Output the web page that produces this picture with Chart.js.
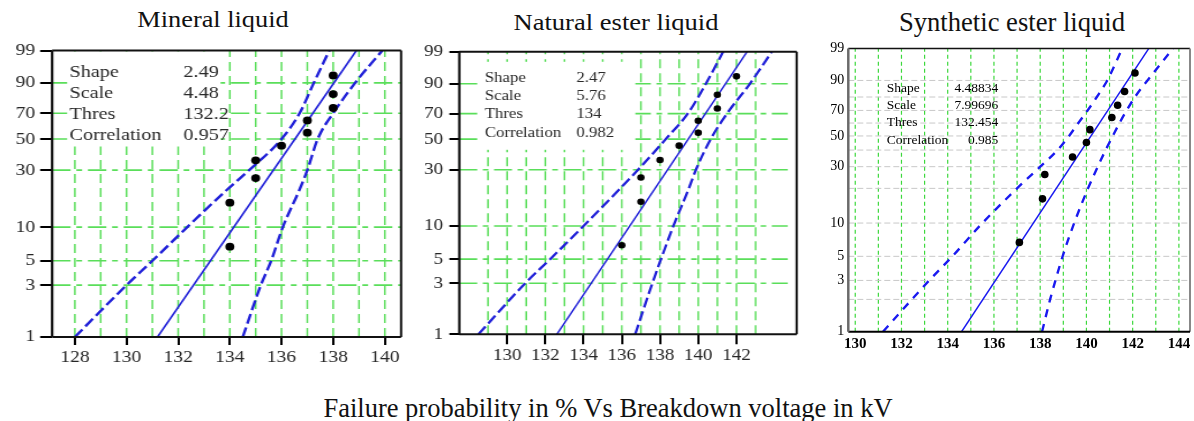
<!DOCTYPE html>
<html>
<head>
<meta charset="utf-8">
<script src="https://cdn.jsdelivr.net/npm/chart.js@4.4.1/dist/chart.umd.min.js"></script>
<style>
  body { margin: 0; background: #fff; width: 1194px; height: 421px; overflow: hidden; position: relative;
         font-family: "Liberation Serif", "Times New Roman", serif; color: #111; }
  .title { position: absolute; white-space: nowrap; line-height: 1; transform-origin: 50% 0; }
  .panel { position: absolute; top: 36px; height: 344px; transform-origin: 0 0; }
  #caption { position: absolute; left: 608px; top: 394.8px; font-size: 26.5px; line-height: 1; white-space: nowrap;
             transform: translateX(-50%); }
</style>
</head>
<body>
<div class="title" style="left:213px; top:9.2px; font-size:22.5px; transform:translateX(-50%) scaleX(1.17);">Mineral liquid</div>
<div class="title" style="left:616px; top:10.8px; font-size:23.5px; transform:translateX(-50%) scaleX(1.13);">Natural ester liquid</div>
<div class="title" style="left:1012px; top:8.9px; font-size:27px; transform:translateX(-50%) scaleX(0.985);">Synthetic ester liquid</div>

<div class="panel" style="left:0; width:356.5px; transform:scaleX(1.15);"><canvas id="mineralChart"></canvas></div>
<div class="panel" style="left:405px; width:366px; transform:scaleX(1.12);"><canvas id="naturalChart"></canvas></div>
<div class="panel" style="left:820px; width:374px;"><canvas id="syntheticChart"></canvas></div>

<div id="caption">Failure probability in % Vs Breakdown voltage in kV</div>

<script>
// median-rank failure probabilities (%) of the 10 breakdowns
const probPct = [6.7, 16.3, 26.0, 35.6, 45.2, 54.8, 64.4, 74.0, 83.7, 93.3];
const probTicks = [1, 3, 5, 10, 30, 50, 70, 90, 99];
const fitPct = [1, 99];

// breakdown voltages (kV)
const mineralKV = [134, 134, 135, 135, 136, 137, 137, 138, 138, 138];
const naturalKV = [136, 137, 137, 138, 139, 140, 140, 141, 141, 142];
const syntheticKV = [137.1, 138.1, 138.2, 139.4, 140.0, 140.15, 141.1, 141.35, 141.65, 142.1];

// fitted line, voltage at 1 % and 99 %
const mineralFitKV = [131.2, 138.9];
const naturalFitKV = [132.6, 142.55];
const syntheticFitKV = [134.6, 142.7];

// confidence bounds, voltage at each bound level
const boundPct = [1, 3, 5, 10, 21, 30, 50, 70, 90, 99];
const mineralUpperKV = [128.0, 130.0, 131.0, 132.35, 133.9, 134.75, 136.0, 136.7, 137.25, 137.85];
const mineralLowerKV = [134.5, 135.2, 135.6, 136.05, 136.7, 137.0, 137.4, 138.0, 138.85, 139.9];
const naturalUpperKV = [128.5, 130.95, 132.25, 134.0, 135.9, 136.85, 138.3, 139.45, 140.4, 141.3];
const naturalLowerKV = [136.7, 137.6, 138.05, 138.7, 139.5, 139.88, 140.65, 141.5, 142.7, 143.85];
const synBoundPct = [1, 2, 3, 5, 10, 20, 30, 40, 50, 60, 70, 80, 90, 99];
const syntheticUpperKV = [131.2, 132.45, 133.2, 134.2, 135.5, 137.0, 138.0, 138.75, 139.25, 139.65, 140.05, 140.45, 140.9, 141.55];
const syntheticLowerKV = [138.08, 138.43, 138.66, 138.97, 139.47, 140.07, 140.49, 140.83, 141.14, 141.43, 141.74, 142.1, 142.64, 143.75];

// x tick labels (kV)
const mineralTicks = [128, 130, 132, 134, 136, 138, 140];
const naturalTicks = [130, 132, 134, 136, 138, 140, 142];
const syntheticTicks = [130, 132, 134, 136, 138, 140, 142, 144];

// Weibull parameters
const statNames = ['Shape', 'Scale', 'Thres', 'Correlation'];
const mineralStats = ['2.49', '4.48', '132.2', '0.957'];
const naturalStats = ['2.47', '5.76', '134', '0.982'];
const syntheticStats = ['4.48834', '7.99696', '132.454', '0.985'];

const serif = "'Liberation Serif', 'Times New Roman', serif";

// Weibull probability paper: y = ln(-ln(1 - F))
function weibullY(p) {
  return Math.log(-Math.log(1 - p / 100));
}

function pairs(kv, pct) {
  return kv.map((v, i) => ({ x: v, y: weibullY(pct[i]) }));
}

// grid, parameter box and frame
const plotDecor = {
  id: 'plotDecor',
  beforeDatasetsDraw(chart, args, o) {
    const { ctx, chartArea: a, scales: { x, y } } = chart;
    ctx.save();
    ctx.beginPath();
    ctx.rect(a.left, a.top, a.right - a.left, a.bottom - a.top);
    ctx.clip();

    ctx.strokeStyle = o.vColor;
    ctx.lineWidth = o.vWidth;
    ctx.setLineDash(o.vDash);
    o.vLines.forEach(v => {
      const px = x.getPixelForValue(v);
      ctx.beginPath();
      ctx.moveTo(px, a.bottom);
      ctx.lineTo(px, a.top);
      ctx.stroke();
    });

    ctx.strokeStyle = o.hColor;
    ctx.lineWidth = o.hWidth;
    ctx.setLineDash(o.hDash);
    o.hLines.forEach(p => {
      const py = y.getPixelForValue(weibullY(p));
      ctx.beginPath();
      ctx.moveTo(a.left, py);
      ctx.lineTo(a.right - o.hInset, py);
      ctx.stroke();
    });

    if (o.box) {
      ctx.fillStyle = '#fff';
      ctx.fillRect(a.left + o.box[0] / o.sx, a.top + o.box[1], (o.box[2] - o.box[0]) / o.sx, o.box[3] - o.box[1]);
    }

    ctx.setLineDash([]);
    ctx.font = o.font;
    ctx.fillStyle = o.textColor;
    ctx.textBaseline = 'alphabetic';
    statNames.forEach((name, i) => {
      const yb = a.top + o.rows[i];
      ctx.textAlign = 'left';
      ctx.fillText(name, a.left + o.nameX / o.sx, yb);
      ctx.textAlign = o.valueAlign;
      ctx.fillText(o.values[i], a.left + o.valueX / o.sx, yb);
    });
    ctx.restore();
  },
  afterDraw(chart, args, o) {
    const { ctx, chartArea: a } = chart;
    const [top, right, bottom, left] = o.frame;
    ctx.save();
    ctx.setLineDash([]);
    const side = (s, x1, y1, x2, y2) => {
      ctx.strokeStyle = s[0];
      ctx.lineWidth = s[1];
      ctx.beginPath();
      ctx.moveTo(x1, y1);
      ctx.lineTo(x2, y2);
      ctx.stroke();
    };
    side(top, a.left, a.top, a.right, a.top);
    side(right, a.right, a.top, a.right, a.bottom);
    side(bottom, a.left, a.bottom, a.right, a.bottom);
    side(left, a.left, a.top, a.left, a.bottom);
    ctx.restore();
  }
};

function buildChart(canvasId, p) {
  const ctx = document.getElementById(canvasId).getContext('2d');
  const boundLine = {
    borderColor: p.blue, borderWidth: p.dashWidth, borderDash: p.dash,
    pointRadius: 0, cubicInterpolationMode: 'monotone'
  };
  return new Chart(ctx, {
    type: 'line',
    data: {
      datasets: [
        { data: pairs(p.kv, probPct), showLine: false, pointRadius: p.dot,
          pointBackgroundColor: '#000', pointBorderColor: '#000', pointBorderWidth: 0 },
        { data: pairs(p.fit, fitPct), borderColor: p.blue, borderWidth: p.fitWidth, pointRadius: 0 },
        Object.assign({ data: pairs(p.upper, p.boundPct) }, boundLine),
        Object.assign({ data: pairs(p.lower, p.boundPct) }, boundLine)
      ]
    },
    options: {
      responsive: true,
      maintainAspectRatio: false,
      animation: false,
      events: [],
      layout: { padding: p.pad },
      plugins: {
        legend: { display: false },
        tooltip: { enabled: false },
        plotDecor: p.decor
      },
      scales: {
        x: {
          type: 'linear',
          min: p.xMin,
          max: p.xMax,
          afterBuildTicks: s => { s.ticks = p.xTicks.map(v => ({ value: v })); },
          afterFit: s => { s.height = p.xAxisH; },
          border: { display: false },
          grid: { display: p.xTickLen > 0, drawOnChartArea: false, drawTicks: true,
                  tickLength: p.xTickLen, color: '#000', lineWidth: 2 },
          ticks: { autoSkip: false, maxRotation: 0, padding: p.xPad, color: p.tickColor,
                   font: { family: serif, size: p.xFont, weight: p.xWeight } }
        },
        y: {
          type: 'linear',
          min: weibullY(1),
          max: weibullY(99),
          afterBuildTicks: s => { s.ticks = probTicks.map(v => ({ value: weibullY(v) })); },
          afterFit: s => { s.width = p.yAxisW; },
          border: { display: false },
          grid: { display: p.yTickLen > 0, drawOnChartArea: false, drawTicks: true,
                  tickLength: p.yTickLen, color: '#000', lineWidth: 2 },
          ticks: { autoSkip: false, padding: p.yPad, color: p.tickColor,
                   font: { family: serif, size: p.yFont },
                   callback: (v, i) => probTicks[i] }
        }
      }
    },
    plugins: [plotDecor]
  });
}

const greenGrid = {
  vColor: '#5ade5a', vWidth: 1.5, vDash: [9, 5],
  hColor: '#5ade5a', hWidth: 1.6, hDash: [16, 5, 5, 5],
  hLines: [3, 5, 10, 30, 50, 70, 90]
};

buildChart('mineralChart', {
  kv: mineralKV, fit: mineralFitKV, upper: mineralUpperKV, lower: mineralLowerKV, boundPct: boundPct,
  xMin: 127.12, xMax: 140.63, xTicks: mineralTicks,
  blue: '#2020d8', fitWidth: 1.6, dashWidth: 2.4, dash: [10, 4], dot: 3.9,
  pad: { left: 0, top: 7.5, right: 8.7, bottom: 10 },
  yAxisW: 45.2, xAxisH: 33, xTickLen: 8, yTickLen: 10.4, xPad: 2, yPad: 4.3,
  xFont: 17, yFont: 17, xWeight: 'normal', tickColor: '#262626',
  decor: Object.assign({}, greenGrid, {
    vLines: [128, 129, 130, 131, 132, 133, 134, 135, 136, 137, 138, 139, 140], hInset: 0,
    sx: 1.15, box: [15, 1, 168, 96],
    font: '17.5px ' + serif, textColor: '#2a2a2a',
    nameX: 17.3, valueX: 131, valueAlign: 'left', rows: [26.5, 47.5, 68.5, 89.5],
    values: mineralStats,
    frame: [['#111', 2], ['#111', 2], ['#111', 2], ['#111', 2.2]]
  })
});

buildChart('naturalChart', {
  kv: naturalKV, fit: naturalFitKV, upper: naturalUpperKV, lower: naturalLowerKV, boundPct: boundPct,
  xMin: 127.5, xMax: 145.15, xTicks: naturalTicks,
  blue: '#2020d8', fitWidth: 1.5, dashWidth: 2.3, dash: [10, 4], dot: 3.3,
  pad: { left: 0, top: 10.7, right: 16.3, bottom: 10.7 },
  yAxisW: 48.5, xAxisH: 35, xTickLen: 10, yTickLen: 8.9, xPad: 1, yPad: 5.6,
  xFont: 17, yFont: 17, xWeight: 'normal', tickColor: '#262626',
  decor: Object.assign({}, greenGrid, {
    vLines: [129, 130, 131, 132, 133, 134, 135, 136, 137, 138, 139, 140, 141, 142, 143], hInset: 8,
    sx: 1.12, box: [19, 10, 176, 98],
    font: '15px ' + serif, textColor: '#2a2a2a',
    nameX: 25.4, valueX: 117, valueAlign: 'left', rows: [30, 48.3, 66.6, 85],
    values: naturalStats,
    frame: [['#111', 2], ['#111', 2], ['#111', 2], ['#111', 2.2]]
  })
});

buildChart('syntheticChart', {
  kv: syntheticKV, fit: syntheticFitKV, upper: syntheticUpperKV, lower: syntheticLowerKV, boundPct: synBoundPct,
  xMin: 129.7, xMax: 144.48, xTicks: syntheticTicks,
  blue: '#1a1af0', fitWidth: 1.5, dashWidth: 2.4, dash: [8, 7], dot: 3.8,
  pad: { left: 0, top: 10.7, right: 3, bottom: 10.3 },
  yAxisW: 28.3, xAxisH: 38, xTickLen: 0, yTickLen: 0, xPad: 3.2, yPad: 4,
  xFont: 15, yFont: 14, xWeight: 'bold', tickColor: '#000',
  decor: {
    vColor: '#3cd83c', vWidth: 1.2, vDash: [4, 3],
    hColor: '#c8c8c8', hWidth: 1, hDash: [6, 3],
    hLines: [2, 3, 5, 10, 20, 30, 40, 50, 60, 70, 80, 90], hInset: 0,
    vLines: [130, 131, 132, 133, 134, 135, 136, 137, 138, 139, 140, 141, 142, 143, 144],
    sx: 1, box: null,
    font: '13.5px ' + serif, textColor: '#000',
    nameX: 38.4, valueX: 150, valueAlign: 'right', rows: [43.3, 60.6, 77.9, 95.2],
    values: syntheticStats,
    frame: [['#111', 1.5], ['#888', 2], ['#000', 2], ['#6a6a6a', 2.5]]
  }
});
</script>
</body>
</html>
